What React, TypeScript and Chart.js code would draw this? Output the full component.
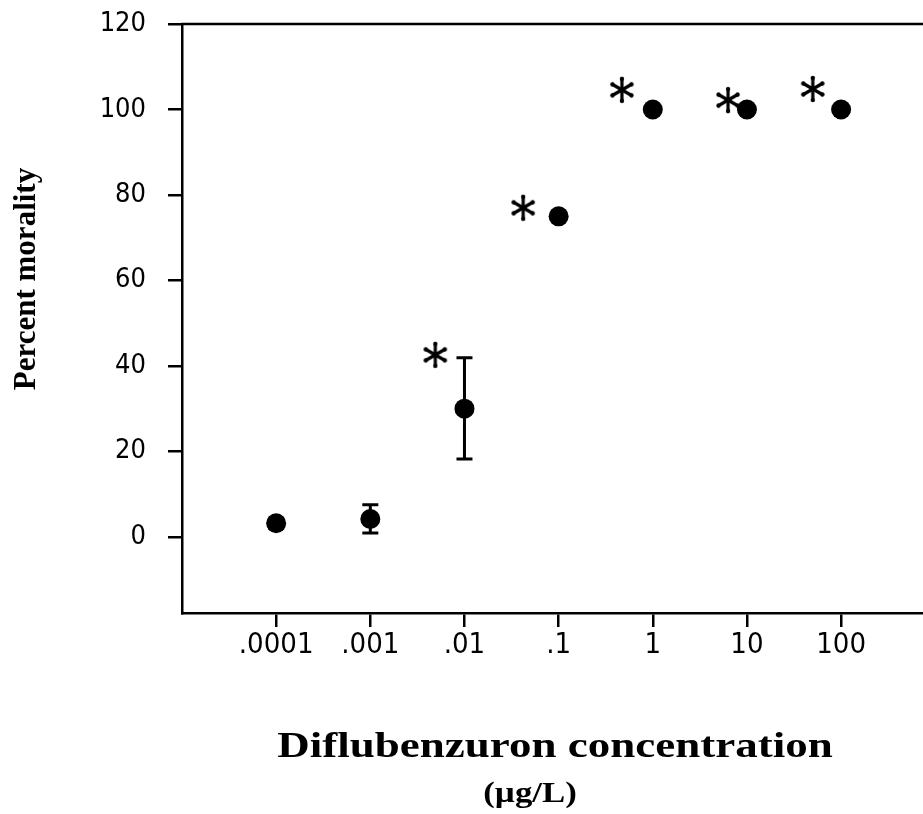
import { useEffect, useRef } from "react";
import { Chart, registerables } from "chart.js";

Chart.register(...registerables);

// ---- data ----
const concentrations = [0.0001, 0.001, 0.01, 0.1, 1, 10, 100];
const meanMortality = [3.2, 4.2, 30, 75, 100, 100, 100];
const errorLow = [2.0, 0.9, 18.2, 75, 100, 100, 100];
const errorHigh = [4.2, 7.5, 41.9, 75, 100, 100, 100];

const asteriskX = [0.0049, 0.042, 0.47, 6.3, 50];
const asteriskY = [42.6, 77.0, 104.6, 102.2, 104.8];

const xTickValues = [0.0001, 0.001, 0.01, 0.1, 1, 10, 100];
const xTickLabels = [".0001", ".001", ".01", ".1", "1", "10", "100"];
const yTickValues = [0, 20, 40, 60, 80, 100, 120];

const yTitle = "Percent morality";
const xTitle = "Diflubenzuron concentration";
const xUnits = "(µg/L)";

const TICK_FONT = "'Liberation Sans Narrow', 'DejaVu Sans Condensed', sans-serif";
const TITLE_FONT = "'Liberation Serif', 'DejaVu Serif', serif";

function makeAsterisk(): HTMLCanvasElement {
  const c = document.createElement("canvas");
  const s = 28;
  c.width = s;
  c.height = s;
  const ctx = c.getContext("2d")!;
  ctx.strokeStyle = "#000";
  ctx.fillStyle = "#000";
  ctx.lineWidth = 3.2;
  ctx.lineCap = "round";
  const cx = s / 2;
  const cy = s / 2;
  const r = 11;
  for (let k = 0; k < 3; k++) {
    const a = Math.PI / 2 + (k * Math.PI) / 3;
    ctx.beginPath();
    ctx.moveTo(cx + r * Math.cos(a), cy - r * Math.sin(a));
    ctx.lineTo(cx - r * Math.cos(a), cy + r * Math.sin(a));
    ctx.stroke();
  }
  for (let k = 0; k < 6; k++) {
    const a = Math.PI / 2 + (k * Math.PI) / 3;
    ctx.beginPath();
    ctx.arc(cx + r * Math.cos(a), cy - r * Math.sin(a), 2.2, 0, Math.PI * 2);
    ctx.fill();
  }
  return c;
}

const errorBarPlugin = {
  id: "errorBars",
  beforeDatasetsDraw(chart: any) {
    const { ctx, scales } = chart;
    const xs = scales.x;
    const ys = scales.y;
    ctx.save();
    ctx.strokeStyle = "#000";
    ctx.lineWidth = 3;
    const cap = 8;
    for (let i = 0; i < concentrations.length; i++) {
      if (errorLow[i] === errorHigh[i]) continue;
      const px = xs.getPixelForValue(concentrations[i]);
      const pl = ys.getPixelForValue(errorLow[i]);
      const ph = ys.getPixelForValue(errorHigh[i]);
      ctx.beginPath();
      ctx.moveTo(px, pl);
      ctx.lineTo(px, ph);
      ctx.moveTo(px - cap, pl);
      ctx.lineTo(px + cap, pl);
      ctx.moveTo(px - cap, ph);
      ctx.lineTo(px + cap, ph);
      ctx.stroke();
    }
    ctx.restore();
  },
};

const framePlugin = {
  id: "frameAndTitles",
  afterDraw(chart: any) {
    const { ctx, chartArea } = chart;
    ctx.save();
    ctx.strokeStyle = "#000";
    ctx.lineWidth = 2.5;
    ctx.beginPath();
    ctx.moveTo(chartArea.left - 1, chartArea.top);
    ctx.lineTo(chart.width, chartArea.top);
    ctx.stroke();

    ctx.fillStyle = "#000";
    ctx.textAlign = "center";
    ctx.textBaseline = "middle";

    // y title
    ctx.save();
    ctx.translate(27, 279);
    ctx.rotate(-Math.PI / 2);
    ctx.font = `bold 31px ${TITLE_FONT}`;
    ctx.fillText(yTitle, 0, 0);
    ctx.restore();

    // x title
    ctx.save();
    ctx.translate(555, 748);
    ctx.scale(1.25, 1);
    ctx.font = `bold 36px ${TITLE_FONT}`;
    ctx.fillText(xTitle, 0, 0);
    ctx.restore();

    ctx.save();
    ctx.translate(530, 795);
    ctx.scale(1.2, 1);
    ctx.font = `bold 29px ${TITLE_FONT}`;
    ctx.fillText(xUnits, 0, 0);
    ctx.restore();

    ctx.restore();
  },
};

export default function App() {
  const ref = useRef<HTMLCanvasElement | null>(null);

  useEffect(() => {
    if (!ref.current) return;
    const star = makeAsterisk();
    const chart = new Chart(ref.current, {
      type: "scatter",
      data: {
        datasets: [
          {
            label: "asterisk",
            data: asteriskX.map((x, i) => ({ x, y: asteriskY[i] })),
            pointStyle: star as any,
            pointRadius: 12,
          },
          {
            label: "mean",
            data: concentrations.map((x, i) => ({ x, y: meanMortality[i] })),
            pointStyle: "circle",
            pointRadius: 10,
            backgroundColor: "#000",
            borderColor: "#000",
            borderWidth: 0,
          },
        ],
      },
      options: {
        responsive: false,
        animation: false,
        events: [],
        layout: { autoPadding: false, padding: { top: 24, right: 0, left: 0, bottom: 0 } },
        plugins: {
          legend: { display: false },
          tooltip: { enabled: false },
          title: { display: false },
        },
        scales: {
          x: {
            type: "logarithmic",
            position: "bottom",
            min: 1e-5,
            max: 741,
            afterBuildTicks: (s: any) => {
              s.ticks = xTickValues.map((v) => ({ value: v }));
            },
            afterFit: (s: any) => {
              s.height = 201;
              s.paddingLeft = 0;
              s.paddingRight = 0;
            },
            ticks: {
              autoSkip: false,
              maxRotation: 0,
              minRotation: 0,
              padding: 1,
              color: "#000",
              font: { family: TICK_FONT, size: 29 },
              callback: (_v: any, i: number) => xTickLabels[i],
            },
            grid: {
              display: true,
              drawOnChartArea: false,
              drawTicks: true,
              tickLength: 14,
              lineWidth: 2.5,
              color: "#000",
            },
            border: { display: true, color: "#000", width: 2.5 },
          },
          y: {
            type: "linear",
            min: -17.8,
            max: 120,
            afterBuildTicks: (s: any) => {
              s.ticks = yTickValues.map((v) => ({ value: v }));
            },
            afterFit: (s: any) => {
              s.width = 182;
              s.paddingTop = 0;
              s.paddingBottom = 0;
            },
            ticks: {
              padding: 22,
              color: "#000",
              font: { family: TICK_FONT, size: 27 },
              callback: (v: any) => String(v),
            },
            grid: {
              display: true,
              drawOnChartArea: false,
              drawTicks: true,
              tickLength: 14,
              lineWidth: 2.5,
              color: "#000",
            },
            border: { display: true, color: "#000", width: 2.5 },
          },
        },
      },
      plugins: [errorBarPlugin, framePlugin],
    });
    return () => chart.destroy();
  }, []);

  return (
    <div style={{ position: "absolute", left: 0, top: 0, width: 923, height: 814, background: "#fff" }}>
      <canvas ref={ref} width={923} height={814} style={{ display: "block" }} />
    </div>
  );
}
